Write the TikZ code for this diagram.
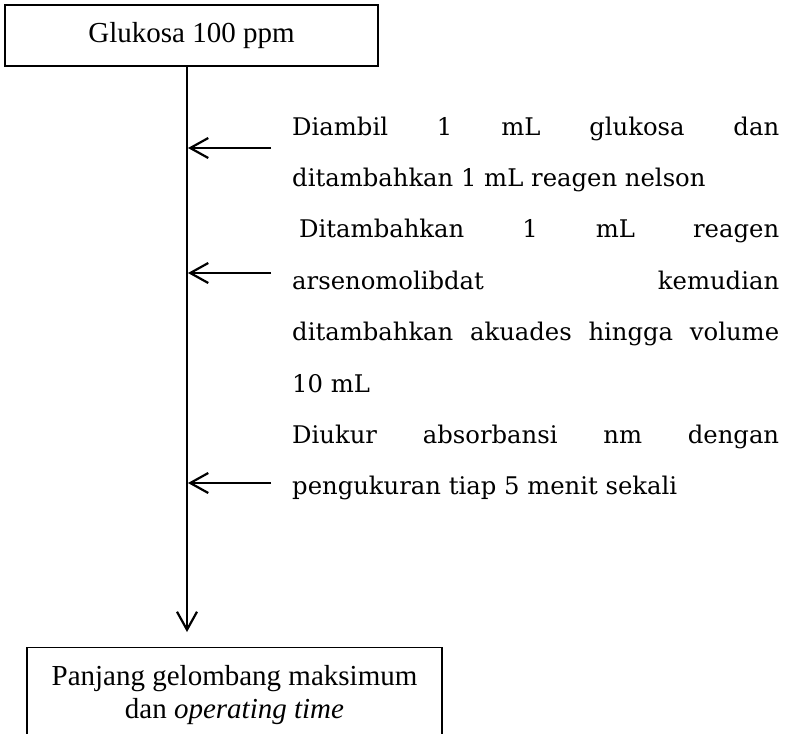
\documentclass[tikz,border=0pt]{standalone}
\usepackage{fontspec}
\setmainfont{Liberation Serif}
\newfontfamily\stepfont{DejaVu Serif}
\usetikzlibrary{arrows.meta}
\tikzset{
  box/.style={rectangle, draw, line width=1.2pt, inner sep=0pt, font=\fontsize{29}{33}\selectfont},
  steptext/.style={anchor=base west, inner sep=0pt, font=\stepfont\fontsize{24.3}{51.4}\selectfont},
  flow/.style={-{Straight Barb[length=18pt, width=20pt]}, line width=2.2pt}
}
\newcommand{\fullline}[2][487pt]{\makebox[#1][s]{#2}}

\begin{document}
\begin{tikzpicture}[x=1pt, y=-1pt]
  \useasboundingbox (0, 0) rectangle (788, 734);
  \node (glukosa) at (191.5, 35.5) [box, minimum width=373pt, minimum height=61pt] {Glukosa 100 ppm};
  \node (panjang) at (234.5, 647) [box, anchor=north, minimum width=415pt, inner ysep=18pt, align=center] {Panjang gelombang maksimum\\dan \textit{operating time}};
  % steps
  \node (s1a) at (292, 135) [steptext] {\fullline{Diambil 1 mL glukosa dan}};
  \node (s1b) at (292, 186.4) [steptext] {ditambahkan 1 mL reagen nelson};
  \node (s2a) at (299, 237.8) [steptext] {\fullline[480pt]{Ditambahkan 1 mL reagen}};
  \node (s2b) at (292, 289.2) [steptext] {\fullline{arsenomolibdat kemudian}};
  \node (s2c) at (292, 340.6) [steptext] {\fullline{ditambahkan akuades hingga volume}};
  \node (s2d) at (292, 392) [steptext] {10 mL};
  \node (s3a) at (292, 443.4) [steptext] {\fullline{Diukur absorbansi nm dengan}};
  \node (s3b) at (292, 494.8) [steptext] {pengukuran tiap 5 menit sekali};
  % main line
  \coordinate (spinetop) at (187, 66);
  \coordinate (spineend) at (187, 632);
  \draw[flow] (spinetop) -- (spineend);
  \foreach \y [count=\i] in {148, 273, 483} {
    \coordinate (in\i) at (271, \y);
    \coordinate (on\i) at (188, \y);
    \draw[flow] (in\i) -- (on\i);
  }
\end{tikzpicture}
\end{document}
